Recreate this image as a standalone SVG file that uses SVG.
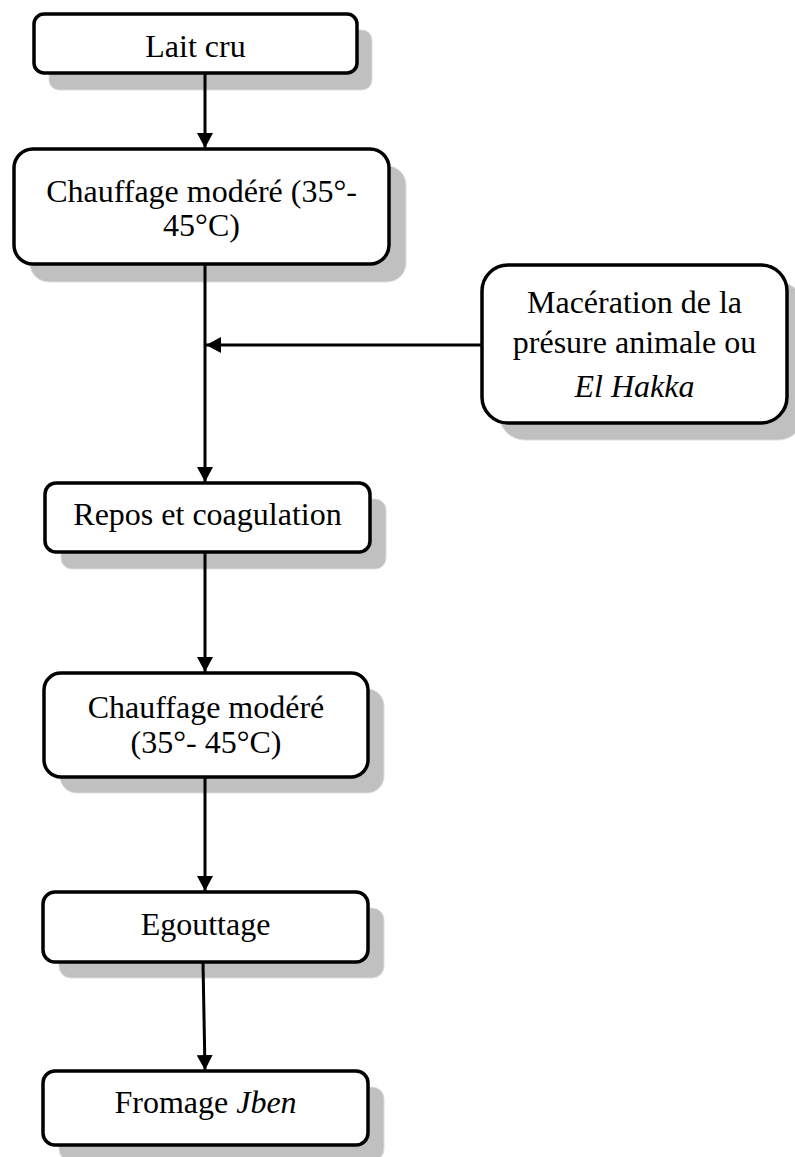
<svg xmlns="http://www.w3.org/2000/svg" width="795" height="1157" viewBox="0 0 795 1157">
<style>
.shadow{fill:#c0c0c0;stroke:#dcdcdc;stroke-width:1}
.box{fill:#ffffff;stroke:#000000;stroke-width:3.5}
.t{font-family:"Liberation Serif","Times New Roman",serif;font-size:32px;fill:#000000;text-anchor:middle}
.i{font-style:italic}
.conn{stroke:#000000;stroke-width:3;fill:none}
</style>
<defs>
<marker id="ah" viewBox="0 0 15 16" refX="15" refY="8" markerWidth="15" markerHeight="16" markerUnits="userSpaceOnUse" orient="auto">
<path d="M0,0 L15,8 L0,16 Z" fill="#000000"/>
</marker>
</defs>
<rect width="795" height="1157" fill="#ffffff"/>
<g id="n1">
<rect class="shadow" x="49" y="30" width="323" height="60" rx="10"/>
<rect class="box" x="34" y="14" width="323" height="59" rx="10"/>
<text class="t" x="195.5" y="57">Lait cru</text>
</g>
<g id="n2">
<rect class="shadow" x="30" y="166" width="376" height="116" rx="19"/>
<rect class="box" x="14" y="149" width="375" height="115" rx="19"/>
<text class="t" x="201.5" y="202">Chauffage modéré (35°-</text>
<text class="t" x="201.5" y="236">45°C)</text>
</g>
<g id="n3">
<rect class="shadow" x="499" y="282" width="305" height="158" rx="26"/>
<rect class="box" x="482" y="265" width="305" height="158" rx="26"/>
<text class="t" x="634.5" y="313">Macération de la</text>
<text class="t" x="634.5" y="353">présure animale ou</text>
<text class="t i" x="634.5" y="397">El Hakka</text>
</g>
<g id="n4">
<rect class="shadow" x="61" y="499" width="325" height="70" rx="11"/>
<rect class="box" x="45" y="483" width="325" height="69" rx="11"/>
<text class="t" x="207.5" y="525">Repos et coagulation</text>
</g>
<g id="n5">
<rect class="shadow" x="60" y="689" width="324" height="104" rx="17"/>
<rect class="box" x="44" y="673" width="324" height="104" rx="17"/>
<text class="t" x="206" y="718">Chauffage modéré</text>
<text class="t" x="206" y="753">(35°- 45°C)</text>
</g>
<g id="n6">
<rect class="shadow" x="59" y="908" width="325" height="70" rx="12"/>
<rect class="box" x="43" y="892" width="325" height="70" rx="12"/>
<text class="t" x="205.5" y="935">Egouttage</text>
</g>
<g id="n7">
<rect class="shadow" x="59" y="1087" width="325" height="74" rx="12"/>
<rect class="box" x="43" y="1071" width="325" height="74" rx="12"/>
<text class="t" x="205.5" y="1113">Fromage <tspan class="i">Jben</tspan></text>
</g>
<g id="connectors">
<line class="conn" x1="205" y1="74" x2="205" y2="148" marker-end="url(#ah)"/>
<line class="conn" x1="205" y1="265" x2="205" y2="482" marker-end="url(#ah)"/>
<line class="conn" x1="482" y1="345" x2="206" y2="345" marker-end="url(#ah)"/>
<line class="conn" x1="205" y1="553" x2="205" y2="672" marker-end="url(#ah)"/>
<line class="conn" x1="205" y1="778" x2="205" y2="891" marker-end="url(#ah)"/>
<line class="conn" x1="203" y1="963" x2="205" y2="1070" marker-end="url(#ah)"/>
</g>
</svg>
